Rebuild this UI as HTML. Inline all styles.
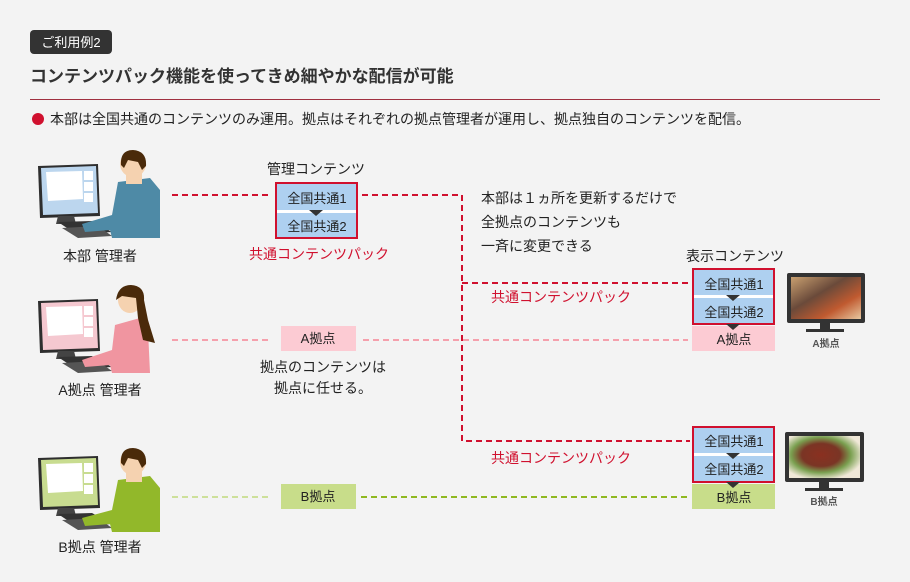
<!DOCTYPE html>
<html><head><meta charset="utf-8"><style>
html,body{margin:0;padding:0;background:#f3f3f3;}
svg{display:block;font-family:"Liberation Sans","Noto Sans CJK JP",sans-serif;}
</style></head><body>
<svg width="910" height="582" viewBox="0 0 910 582" xmlns="http://www.w3.org/2000/svg">
<rect width="910" height="582" fill="#f3f3f3"/>
<defs>
<linearGradient id="food1" x1="0" y1="0" x2="1" y2="1"><stop offset="0" stop-color="#c9a070"/><stop offset="0.4" stop-color="#6a4a3a"/><stop offset="0.7" stop-color="#c05a30"/><stop offset="1" stop-color="#e8c8a0"/></linearGradient>
<radialGradient id="food2" cx="0.45" cy="0.45" r="0.6"><stop offset="0" stop-color="#8a3020"/><stop offset="0.45" stop-color="#7a3525"/><stop offset="0.7" stop-color="#7aa050"/><stop offset="1" stop-color="#f0e8d8"/></radialGradient>
<g id="mon">
 <polygon points="0,0 60,-2 62,50 2,52" fill="#2e2e2e"/>
 <polygon points="20,50 36,50 38,58 18,58" fill="#444"/>
 <polygon points="20,56 54,55 74,66 38,68" fill="#333"/>
 <polygon points="24,62 60,60 74,70 40,72" fill="#555"/>
</g>
<g id="scr">
 <polygon points="8,6 44,5 45,33 10,35" fill="#fff"/>
 <rect x="46" y="5" width="9" height="9" fill="#fff"/>
 <rect x="46" y="16" width="9" height="9" fill="#fff"/>
 <rect x="46" y="27" width="9" height="9" fill="#fff"/>
</g>
</defs>

<!-- header -->
<rect x="30" y="30" width="82" height="24" rx="4" fill="#333"/>
<text x="71" y="47" font-size="13" fill="#fff" text-anchor="middle">ご利用例2</text>
<text x="30" y="82" font-size="17" font-weight="bold" fill="#333">コンテンツパック機能を使ってきめ細やかな配信が可能</text>
<rect x="30" y="99" width="850" height="1" fill="#a03040"/>
<circle cx="38" cy="119" r="6" fill="#d0102e"/>
<text x="50" y="124" font-size="14" fill="#222">本部は全国共通のコンテンツのみ運用。拠点はそれぞれの拠点管理者が運用し、拠点独自のコンテンツを配信。</text>

<!-- HQ person -->
<g transform="translate(38,166)">
 <use href="#mon"/>
 <polygon points="3,2 58,0 60,47 5,49" fill="#bcd6ee"/>
 <use href="#scr"/>
</g>
<path d="M118,182 L150,178 L160,190 L160,238 L112,238 L110,230 L85,232 L82,224 L112,215 Z" fill="#4e8aa6"/>
<rect x="126" y="168" width="16" height="16" fill="#f5d2b0"/>
<ellipse cx="133" cy="164" rx="13" ry="13" fill="#f5d2b0"/>
<path d="M121,165 Q120,150 133,150 Q147,151 146,166 L142,170 L138,162 L128,160 L124,168 Z" fill="#4a2a0a"/>
<text x="100" y="261" font-size="14" fill="#222" text-anchor="middle">本部 管理者</text>

<!-- A person -->
<g transform="translate(38,301)">
 <use href="#mon"/>
 <polygon points="3,2 58,0 60,47 5,49" fill="#f5c8d0"/>
 <use href="#scr"/>
</g>
<path d="M115,325 L140,318 L148,330 L150,373 L112,373 L110,365 L85,367 L82,360 L112,350 Z" fill="#f095a0"/>
<ellipse cx="130" cy="300" rx="12" ry="13" fill="#f5d2b0"/>
<path d="M116,300 Q118,285 131,285 Q145,286 144,300 L148,320 L155,343 L143,340 L138,318 L136,298 L122,296 Z" fill="#4a2a0a"/>
<text x="100" y="395" font-size="14" fill="#222" text-anchor="middle">A拠点 管理者</text>

<!-- B person -->
<g transform="translate(38,458)">
 <use href="#mon"/>
 <polygon points="3,2 58,0 60,47 5,49" fill="#c8dc90"/>
 <use href="#scr"/>
</g>
<path d="M118,480 L150,476 L160,488 L160,532 L112,532 L110,524 L85,526 L82,518 L112,510 Z" fill="#92b82a"/>
<rect x="126" y="466" width="16" height="16" fill="#f5d2b0"/>
<ellipse cx="133" cy="462" rx="13" ry="13" fill="#f5d2b0"/>
<path d="M121,463 Q120,448 133,448 Q147,449 146,464 L142,468 L138,460 L128,458 L124,466 Z" fill="#4a2a0a"/>
<text x="100" y="552" font-size="14" fill="#222" text-anchor="middle">B拠点 管理者</text>

<!-- red dashed lines -->
<g stroke="#d0102e" stroke-width="2" stroke-dasharray="6,4" fill="none">
 <line x1="172" y1="195" x2="270" y2="195"/>
 <polyline points="362,195 462,195 462,441 690,441"/>
 <line x1="462" y1="283" x2="690" y2="283"/>
</g>
<g stroke="#f5a0ac" stroke-width="2" stroke-dasharray="6,4">
 <line x1="172" y1="340" x2="268" y2="340"/>
 <line x1="363" y1="340" x2="688" y2="340"/>
</g>
<line x1="172" y1="497" x2="268" y2="497" stroke="#cde09a" stroke-width="2" stroke-dasharray="6,4"/>
<line x1="361" y1="497" x2="688" y2="497" stroke="#8fb820" stroke-width="2" stroke-dasharray="6,4"/>

<!-- top pack -->
<text x="316" y="174" font-size="14" fill="#222" text-anchor="middle">管理コンテンツ</text>
<rect x="276" y="183" width="81" height="55" fill="#fff" stroke="#d0102e" stroke-width="2"/>
<rect x="277" y="184" width="79" height="26" fill="#aed0f0"/>
<rect x="277" y="213" width="79" height="24" fill="#aed0f0"/>
<polygon points="309,210 323,210 316,216" fill="#333"/>
<text x="317" y="203" font-size="13" fill="#222" text-anchor="middle">全国共通1</text>
<text x="317" y="231" font-size="13" fill="#222" text-anchor="middle">全国共通2</text>
<text x="319" y="259" font-size="14" fill="#d0102e" text-anchor="middle">共通コンテンツパック</text>

<text x="481" y="203" font-size="14" fill="#222">本部は１ヵ所を更新するだけで</text>
<text x="481" y="227" font-size="14" fill="#222">全拠点のコンテンツも</text>
<text x="481" y="251" font-size="14" fill="#222">一斉に変更できる</text>
<text x="491" y="302" font-size="14" fill="#d0102e">共通コンテンツパック</text>
<text x="491" y="463" font-size="14" fill="#d0102e">共通コンテンツパック</text>

<rect x="281" y="326" width="75" height="25" fill="#fccbd3"/>
<text x="318" y="343" font-size="13" fill="#222" text-anchor="middle">A拠点</text>
<text x="323" y="372" font-size="14" fill="#222" text-anchor="middle">拠点のコンテンツは</text>
<text x="323" y="393" font-size="14" fill="#222" text-anchor="middle">拠点に任せる。</text>
<rect x="281" y="484" width="75" height="25" fill="#c8dd8a"/>
<text x="318" y="501" font-size="13" fill="#222" text-anchor="middle">B拠点</text>

<!-- right A -->
<text x="735" y="261" font-size="14" fill="#222" text-anchor="middle">表示コンテンツ</text>
<rect x="693" y="269" width="81" height="55" fill="#fff" stroke="#d0102e" stroke-width="2"/>
<rect x="694" y="270" width="79" height="25" fill="#aed0f0"/>
<rect x="694" y="298" width="79" height="25" fill="#aed0f0"/>
<polygon points="726,295 740,295 733,301" fill="#333"/>
<rect x="692" y="326" width="83" height="25" fill="#fccbd3"/>
<polygon points="726,324 740,324 733,330" fill="#333"/>
<text x="734" y="289" font-size="13" fill="#222" text-anchor="middle">全国共通1</text>
<text x="734" y="317" font-size="13" fill="#222" text-anchor="middle">全国共通2</text>
<text x="734" y="344" font-size="13" fill="#222" text-anchor="middle">A拠点</text>
<rect x="787" y="273" width="78" height="50" rx="2" fill="#333"/>
<rect x="791" y="277" width="70" height="42" fill="url(#food1)"/>
<rect x="820" y="323" width="10" height="6" fill="#333"/>
<rect x="806" y="329" width="38" height="3" fill="#333"/>
<text x="826" y="347" font-size="10" font-weight="bold" fill="#555" text-anchor="middle">A拠点</text>

<!-- right B -->
<rect x="693" y="427" width="81" height="55" fill="#fff" stroke="#d0102e" stroke-width="2"/>
<rect x="694" y="428" width="79" height="25" fill="#aed0f0"/>
<rect x="694" y="456" width="79" height="25" fill="#aed0f0"/>
<polygon points="726,453 740,453 733,459" fill="#333"/>
<rect x="692" y="484" width="83" height="25" fill="#c8dd8a"/>
<polygon points="726,482 740,482 733,488" fill="#333"/>
<text x="734" y="446" font-size="13" fill="#222" text-anchor="middle">全国共通1</text>
<text x="734" y="474" font-size="13" fill="#222" text-anchor="middle">全国共通2</text>
<text x="734" y="502" font-size="13" fill="#222" text-anchor="middle">B拠点</text>
<rect x="785" y="432" width="79" height="50" rx="2" fill="#333"/>
<rect x="789" y="436" width="71" height="42" fill="url(#food2)"/>
<rect x="819" y="482" width="10" height="6" fill="#333"/>
<rect x="805" y="488" width="38" height="3" fill="#333"/>
<text x="824" y="505" font-size="10" font-weight="bold" fill="#555" text-anchor="middle">B拠点</text>
</svg>
</body></html>
